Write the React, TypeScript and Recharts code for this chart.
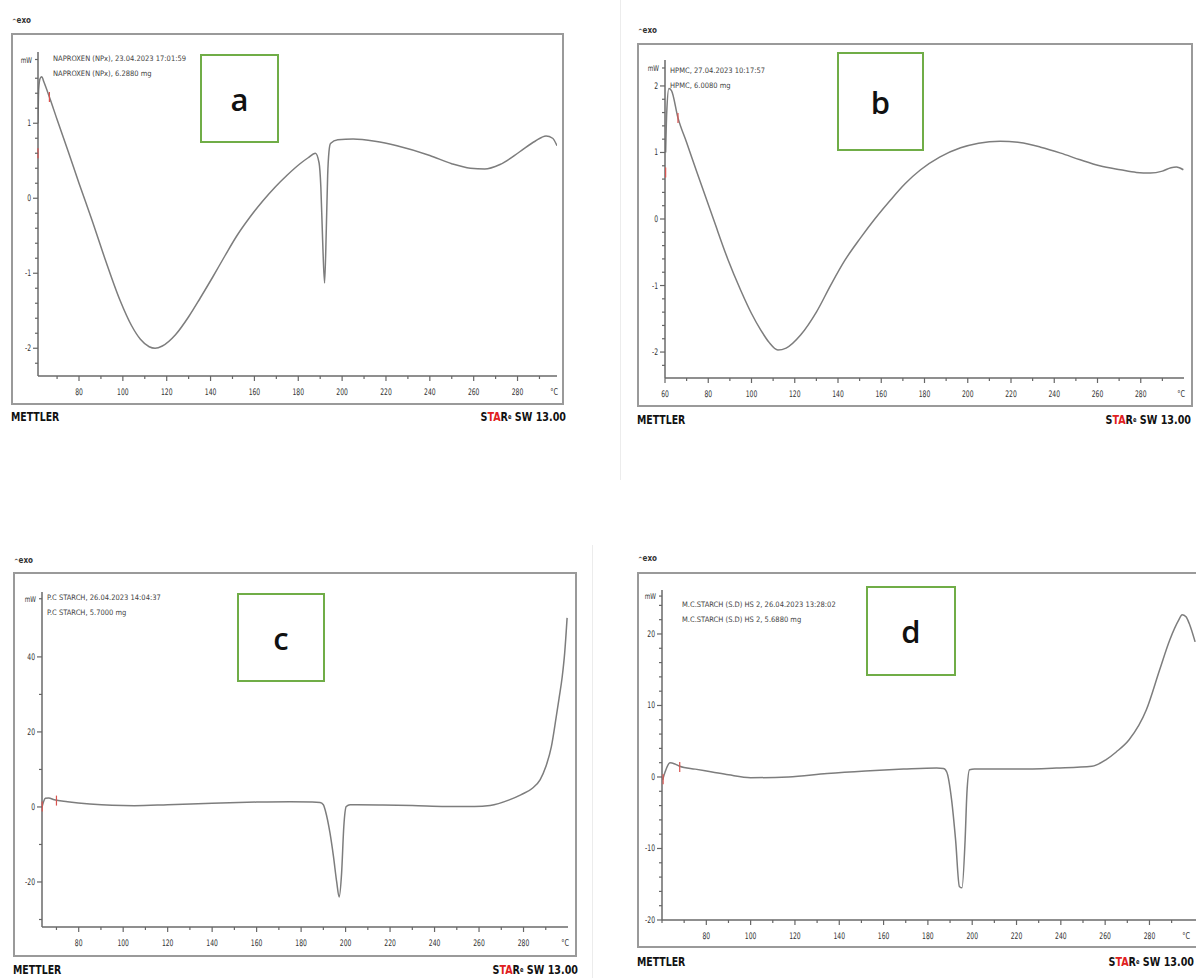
import React from 'react';
import { LineChart, Line, XAxis, YAxis, ReferenceDot } from 'recharts';

// a: NAPROXEN
const tempA = [61.3, 61.6, 62.3, 63, 64, 66.5, 70, 75, 80, 85.9, 92, 98.7, 104, 108, 112, 114.7, 118, 124, 130, 135.3, 141, 146.7, 152, 158, 164, 169.5, 175, 180.8, 184.5, 187.8, 189.5, 190.3, 191.1, 192, 192.8, 193.4, 194, 194.7, 198, 205, 215, 225, 240, 250, 258.5, 265, 272, 281, 288, 293, 296, 298];
const heatA = [1.0, 1.45, 1.6, 1.62, 1.55, 1.35, 1.05, 0.63, 0.2, -0.29, -0.82, -1.36, -1.7, -1.88, -1.98, -2.0, -1.97, -1.82, -1.58, -1.33, -1.05, -0.76, -0.5, -0.25, -0.03, 0.15, 0.31, 0.46, 0.54, 0.6, 0.47, 0.15, -0.55, -1.13, -0.4, 0.3, 0.62, 0.73, 0.78, 0.79, 0.76, 0.7, 0.57, 0.46, 0.4, 0.39, 0.45, 0.62, 0.76, 0.83, 0.8, 0.7];

// b: HPMC
const tempB = [60.3, 60.8, 61.8, 63, 66, 70, 75, 82.6, 89, 95, 100, 104.3, 108, 112.2, 116, 122.8, 130, 136.7, 143, 150.5, 157, 164.4, 171, 178.2, 187, 196.7, 205, 215, 224, 233.7, 243, 252, 261, 270.6, 278, 284.5, 290, 294, 296.5, 299.7];
const heatB = [1.0, 1.6, 1.96, 1.93, 1.52, 1.15, 0.68, -0.02, -0.6, -1.07, -1.42, -1.67, -1.85, -1.97, -1.94, -1.74, -1.4, -0.99, -0.63, -0.28, 0.0, 0.29, 0.53, 0.74, 0.93, 1.07, 1.14, 1.17, 1.15, 1.08, 0.99, 0.89, 0.8, 0.74, 0.7, 0.69, 0.72, 0.77, 0.78, 0.74];

// c: P.C STARCH
const tempC = [63.5, 64.2, 65.0, 66.5, 69, 75, 85, 95, 105, 120, 140, 160, 175, 185, 188.5, 190, 191, 193, 194.5, 196, 197.1, 198.2, 199.2, 200.3, 202, 215, 230, 245, 258, 265, 273.6, 279, 284, 287.5, 290, 292.5, 294.7, 296, 297.4, 298.5, 299.6];
const heatC = [0, 1.4, 2.3, 2.4, 1.9, 1.4, 0.8, 0.45, 0.35, 0.6, 1.0, 1.3, 1.4, 1.35, 1.2, 0.6, -1.2, -7, -13, -20, -24, -17.7, -5.2, 0.1, 0.6, 0.55, 0.4, 0.15, 0.1, 0.4, 1.9, 3.3, 5, 7.3, 10.7, 16, 24, 29, 34.7, 41, 50.4];

// d: M.C.STARCH (S.D) HS 2
const tempD = [60.3, 61.5, 63.6, 66, 68, 75, 82.6, 90, 100, 117, 134.5, 151.8, 169, 184, 187, 188.5, 190.7, 192.5, 194.2, 195.4, 196.8, 197.6, 198.8, 201, 221, 238, 254, 260.3, 265, 270.8, 278.6, 284.6, 289.2, 293.3, 294.7, 296.5, 297.9, 300.6];
const heatD = [-0.4, 0.8, 2.0, 1.8, 1.5, 1.1, 0.7, 0.3, -0.1, 0, 0.5, 0.85, 1.1, 1.25, 1.2, 0.7, -3.2, -8.8, -15.3, -15.5, -8.8, -2.3, 1.0, 1.1, 1.1, 1.25, 1.5, 2.4, 3.5, 5.2, 9.4, 15, 19.2, 22, 22.7, 22.4, 21.5, 18.9];

const xLabels = [80, 100, 120, 140, 160, 180, 200, 220, 240, 260, 280];
const xLabelsB = [60, 80, 100, 120, 140, 160, 180, 200, 220, 240, 260, 280];
const yLabelsA = [-2, -1, 0, 1];
const yLabelsB = [-2, -1, 0, 1, 2];
const yLabelsC = [-20, 0, 20, 40];
const yLabelsD = [-20, -10, 0, 10, 20];

const headerA = ['NAPROXEN (NPx), 23.04.2023 17:01:59', 'NAPROXEN (NPx), 6.2880 mg'];
const headerB = ['HPMC, 27.04.2023 10:17:57', 'HPMC, 6.0080 mg'];
const headerC = ['P.C STARCH, 26.04.2023 14:04:37', 'P.C STARCH, 5.7000 mg'];
const headerD = ['M.C.STARCH (S.D) HS 2, 26.04.2023 13:28:02', 'M.C.STARCH (S.D) HS 2, 5.6880 mg'];

// small red evaluation marks
const marksA: [number, number][] = [[66.5, 1.35], [61.3, 0.6]];
const marksB: [number, number][] = [[66, 1.52], [60.3, 0.7]];
const marksC: [number, number][] = [[70, 1.7], [63.6, 0.1]];
const marksD: [number, number][] = [[68, 1.4], [60.5, -0.3]];

const NARROW = "'Liberation Sans Narrow', 'DejaVu Sans Condensed', 'Liberation Sans', sans-serif";

type Box = { left: number; top: number; right: number; bottom: number };

const near = (a: number, b: number) => Math.abs(a - b) < 1e-6;

function steps(from: number, to: number, step: number): number[] {
    const out: number[] = [];
    const start = Math.ceil(from / step - 1e-9);
    for (let i = start; i * step <= to + 1e-9; i++) out.push(Math.round(i * step * 1000) / 1000);
    return out;
}

const makeXTick = (labels: number[], end: number, unitDx: number) => (props: any) => {
    const { x, y, payload } = props;
    const v = payload.value;
    if (near(v, end)) {
        return <text transform={`translate(${x + unitDx} ${y + 19}) scale(0.8 1)`} textAnchor="end" fontSize={9} fill="#333" fontFamily={NARROW}>°C</text>;
    }
    const major = labels.some(l => near(l, v));
    return (
        <g>
            <line x1={x} x2={x} y1={y} y2={y + (major ? 5 : 3)} stroke="#666" strokeWidth={1.2} />
            {major && <text transform={`translate(${x} ${y + 19}) scale(0.75 1)`} textAnchor="middle" fontSize={9} fill="#333" fontFamily={NARROW}>{v}</text>}
        </g>
    );
};

const makeYTick = (labels: number[], unitAt: number) => (props: any) => {
    const { x, y, payload } = props;
    const v = payload.value;
    if (near(v, unitAt)) {
        return (
            <g>
                <line x1={x} x2={x - 3} y1={y} y2={y} stroke="#666" strokeWidth={1.2} />
                <text transform={`translate(${x - 6} ${y + 3}) scale(0.8 1)`} textAnchor="end" fontSize={8} fill="#333" fontFamily={NARROW}>mW</text>
            </g>
        );
    }
    const major = labels.some(l => near(l, v));
    return (
        <g>
            <line x1={x} x2={x - (major ? 5 : 3)} y1={y} y2={y} stroke="#666" strokeWidth={1.2} />
            {major && <text transform={`translate(${x - 7} ${y + 3}) scale(0.75 1)`} textAnchor="end" fontSize={9} fill="#333" fontFamily={NARROW}>{v}</text>}
        </g>
    );
};

const RedMark = (props: any) => {
    const { cx, cy } = props;
    return <line x1={cx} x2={cx} y1={cy - 5} y2={cy + 5} stroke="#d9534f" strokeWidth={1.2} />;
};

interface PanelProps {
    frame: Box;
    plot: Box;
    exoTop: number;
    footTop: number;
    footRight: number;
    xDomain: [number, number];
    yDomain: [number, number];
    xMajor: number[];
    xStep: number;
    yMajor: number[];
    yStep: number;
    unitAt: number;
    unitDx?: number;
    temps: number[];
    values: number[];
    header: string[];
    headerLeft: number;
    headerTop: number;
    letter: string;
    letterBox: Box;
    marks: [number, number][];
}

const Panel: React.FC<PanelProps> = p => {
    const data = p.temps.map((t, i) => ({ t, v: p.values[i] }));
    const xTicks = [...steps(p.xDomain[0], p.xDomain[1] - 4, p.xStep), p.xDomain[1]];
    const yTicks = [...steps(p.yDomain[0], p.yDomain[1], p.yStep).filter(v => v < p.unitAt - p.yStep * 0.6), p.unitAt];
    const padL = 40, padT = 12, padR = 12, padB = 30;
    const w = p.plot.right - p.plot.left + padL + padR;
    const h = p.plot.bottom - p.plot.top + padT + padB;
    const footStyle: React.CSSProperties = { position: 'absolute', top: p.footTop - 8, fontSize: 13, lineHeight: '16px', fontWeight: 'bold', fontFamily: NARROW, color: '#111', whiteSpace: 'nowrap' };

    return (
        <>
            <div style={{ position: 'absolute', left: p.frame.left, top: p.frame.top, width: p.frame.right - p.frame.left, height: p.frame.bottom - p.frame.top, border: '2px solid #9a9a9a', boxSizing: 'border-box' }} />
            <div style={{ position: 'absolute', left: p.frame.left + 1, top: p.exoTop - 6, fontSize: 8, lineHeight: '10px', fontWeight: 'bold', color: '#333', fontFamily: NARROW }}>
                <span style={{ fontSize: 6, verticalAlign: 'top' }}>^</span>exo
            </div>
            <div style={{ position: 'absolute', left: p.headerLeft, top: p.headerTop - 5, fontSize: 7.5, lineHeight: '15px', color: '#444', fontFamily: NARROW, whiteSpace: 'nowrap' }}>
                {p.header.map(line => <div key={line}>{line}</div>)}
            </div>
            <div style={{ position: 'absolute', left: p.plot.left - padL, top: p.plot.top - padT }}>
                <LineChart width={w} height={h} data={data} margin={{ top: padT, right: padR, bottom: 0, left: 0 }}>
                    <XAxis
                        type="number"
                        dataKey="t"
                        domain={p.xDomain}
                        allowDataOverflow
                        ticks={xTicks}
                        interval={0}
                        height={padB}
                        tickSize={0}
                        tickMargin={0}
                        axisLine={{ stroke: '#6a6a6a', strokeWidth: 1.5 }}
                        tickLine={false}
                        tick={makeXTick(p.xMajor, p.xDomain[1], p.unitDx ?? 1)}
                    />
                    <YAxis
                        type="number"
                        domain={p.yDomain}
                        allowDataOverflow
                        ticks={yTicks}
                        interval={0}
                        width={padL}
                        tickSize={0}
                        tickMargin={0}
                        axisLine={{ stroke: '#6a6a6a', strokeWidth: 1.5 }}
                        tickLine={false}
                        tick={makeYTick(p.yMajor, p.unitAt)}
                    />
                    <Line type="monotone" dataKey="v" stroke="#7d7d7d" strokeWidth={1.5} dot={false} isAnimationActive={false} />
                    {p.marks.map(([mx, my]) => (
                        <ReferenceDot key={`${mx}-${my}`} x={mx} y={my} r={0} shape={RedMark} />
                    ))}
                </LineChart>
            </div>
            <div style={{ position: 'absolute', left: p.letterBox.left, top: p.letterBox.top, width: p.letterBox.right - p.letterBox.left, height: p.letterBox.bottom - p.letterBox.top, border: '2px solid #70ad47', boxSizing: 'border-box', background: '#fff', display: 'flex', alignItems: 'center', justifyContent: 'center', fontFamily: "'Open Sans', 'Noto Sans', sans-serif", fontSize: 31, fontWeight: 600, color: '#111' }}>
                {p.letter}
            </div>
            <div style={{ ...footStyle, left: p.frame.left, transform: 'scaleX(0.8)', transformOrigin: 'left center' }}>METTLER</div>
            <div style={{ ...footStyle, left: p.footRight - 120, width: 120, textAlign: 'right', transform: 'scaleX(0.82)', transformOrigin: 'right center' }}>
                S<span style={{ color: '#e02020' }}>TA</span>R<span style={{ fontSize: 7, verticalAlign: 'top' }}>e</span> SW 13.00
            </div>
        </>
    );
};

const App: React.FC = () => {
    return (
        <div style={{ position: 'fixed', left: 0, top: 0, width: 1196, height: 978, background: '#fff', overflow: 'hidden' }}>
            <div style={{ position: 'absolute', left: 620, top: 0, width: 1, height: 480, background: '#ececec' }} />
            <div style={{ position: 'absolute', left: 592, top: 545, width: 1, height: 433, background: '#ececec' }} />

            <Panel
                frame={{ left: 11, top: 33, right: 564, bottom: 405 }}
                plot={{ left: 38, top: 52, right: 557, bottom: 376 }}
                exoTop={22} footTop={417} footRight={566}
                xDomain={[61.3, 298]} yDomain={[-2.37, 1.95]}
                xMajor={xLabels} xStep={10} yMajor={yLabelsA} yStep={0.2} unitAt={1.85}
                temps={tempA} values={heatA}
                header={headerA} headerLeft={53} headerTop={56}
                letter="a" letterBox={{ left: 200, top: 54, right: 279, bottom: 143 }}
                marks={marksA}
            />
            <Panel
                frame={{ left: 637, top: 43, right: 1193, bottom: 407 }}
                plot={{ left: 665, top: 60, right: 1184, bottom: 378 }}
                exoTop={32} footTop={420} footRight={1191}
                xDomain={[60, 300]} yDomain={[-2.39, 2.39]}
                xMajor={xLabelsB} xStep={10} yMajor={yLabelsB} yStep={0.2} unitAt={2.27}
                temps={tempB} values={heatB}
                header={headerB} headerLeft={670} headerTop={68}
                letter="b" letterBox={{ left: 837, top: 52, right: 924, bottom: 151 }}
                marks={marksB}
            />
            <Panel
                frame={{ left: 13, top: 572, right: 577, bottom: 957 }}
                plot={{ left: 42, top: 592, right: 568, bottom: 927 }}
                exoTop={562} footTop={970} footRight={578}
                xDomain={[63.5, 300]} yDomain={[-32, 57.3]}
                xMajor={xLabels} xStep={10} yMajor={yLabelsC} yStep={10} unitAt={55.5}
                temps={tempC} values={heatC}
                header={headerC} headerLeft={47} headerTop={595}
                letter="c" letterBox={{ left: 237, top: 593, right: 325, bottom: 682 }}
                marks={marksC}
            />
            <Panel
                frame={{ left: 637, top: 572, right: 1210, bottom: 948 }}
                plot={{ left: 662, top: 590, right: 1196, bottom: 920 }}
                exoTop={560} footTop={962} footRight={1194}
                xDomain={[60, 301]} yDomain={[-20, 26.15]}
                xMajor={xLabels} xStep={10} yMajor={yLabelsD} yStep={2} unitAt={25.3}
                unitDx={-6}
                temps={tempD} values={heatD}
                header={headerD} headerLeft={682} headerTop={602}
                letter="d" letterBox={{ left: 866, top: 586, right: 956, bottom: 676 }}
                marks={marksD}
            />
        </div>
    );
};

export default App;
